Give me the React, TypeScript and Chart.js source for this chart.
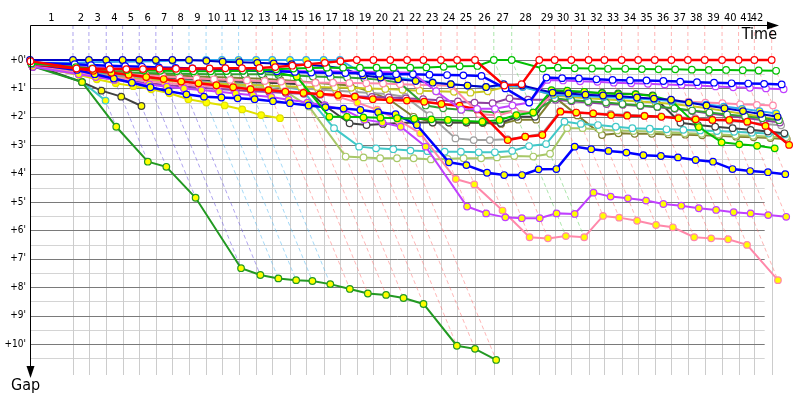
import React, { useEffect, useRef } from "react";
import { Chart, registerables } from "chart.js";
Chart.register(...registerables);

// leader's elapsed time (minutes) at the end of each lap, lap 0 = start
const lapTimes = [0, 3.70, 5.07, 6.56, 7.97, 9.40, 10.83, 12.25, 13.68, 15.15, 16.52, 17.95, 19.46, 20.85, 22.37, 23.76, 25.27, 26.67, 28.12, 29.55, 31.00, 32.45, 33.85, 35.36, 36.75, 38.29, 39.91, 41.45, 43.82, 45.15, 46.58, 48.06, 49.43, 50.91, 52.33, 53.76, 55.19, 56.61, 58.06, 59.55, 60.97, 62.33, 63.82];
const lapLabels = ["1","2","3","4","5","6","7","8","9","10","11","12","13","14","15","16","17","18","19","20","21","22","23","24","25","26","27","28","29","30","31","32","33","34","35","36","37","38","39","40","41","42"];
const gapTicks = [0, 1, 2, 3, 4, 5, 6, 7, 8, 9, 10];
const gapTickLabels = ["+0'", "+1'", "+2'", "+3'", "+4'", "+5'", "+6'", "+7'", "+8'", "+9'", "+10'"];
// colour of the leader for each lap (1..42)
const lapLeaderColors = ["b","b","b","b","b","b","b","c","c","c","c","r","r","r","r","r","r","r","r","r","r","r","r","r","r","g","g","r","r","r","r","r","r","r","r","r","r","r","r","r","r","r"];

// gaps to the leader (minutes) per lap, index = lap
const gapsRedW = [0.04,0.3,0.31,0.32,0.32,0.32,0.31,0.31,0.3,0.3,0.29,0.29,0.28,0.25,0.2,0.15,0.1,0.04,0,0,0,0,0,0,0,0,0.9,0.85,0,0,0,0,0,0,0,0,0,0,0,0,0,0,0];
const gapsGreenW = [0.12,0.25,0.3,0.33,0.35,0.37,0.38,0.39,0.4,0.4,0.39,0.38,0.37,0.33,0.3,0.28,0.27,0.27,0.27,0.27,0.27,0.27,0.26,0.24,0.22,0.21,0,0,0.3,0.27,0.29,0.3,0.31,0.31,0.32,0.33,0.33,0.34,0.35,0.35,0.36,0.37,0.38];
const gapsBlueW = [0.1,0.15,0.18,0.2,0.22,0.24,0.26,0.28,0.3,0.32,0.34,0.36,0.38,0.4,0.42,0.44,0.45,0.46,0.47,0.48,0.5,0.5,0.52,0.53,0.54,0.56,1.0,1.5,0.62,0.64,0.65,0.68,0.7,0.72,0.72,0.74,0.76,0.78,0.8,0.82,0.83,0.84,0.86];
const gapsVioletW = [0.15,0.2,0.25,0.28,0.3,0.32,0.33,0.34,0.35,0.36,0.37,0.38,0.38,0.39,0.39,0.4,0.4,0.41,0.41,0.42,0.43,0.45,1.1,1.75,1.72,1.72,1.6,1.5,0.7,0.72,0.75,0.77,0.8,0.82,0.84,0.86,0.88,0.9,0.93,0.96,0.98,1.0,1.03];
const gapsPinkW = [0.18,0.35,0.4,0.45,0.5,0.54,0.58,0.62,0.65,0.68,0.7,0.72,0.74,0.76,0.78,0.8,0.8,0.81,0.82,0.83,0.85,0.87,0.89,0.91,1.9,1.95,1.8,1.85,1.2,1.22,1.25,1.27,1.3,1.33,1.36,1.41,1.47,1.5,1.52,1.56,1.58,1.6];
const gapsDarkGreenW = [0.2,0.4,0.42,0.44,0.45,0.46,0.47,0.48,0.49,0.5,0.5,0.5,0.5,0.52,0.55,0.58,0.6,0.62,0.65,0.7,0.8,1.6,1.7,1.75,1.8,1.85,1.8,1.85,1.35,1.42,1.45,1.5,1.55,1.6,1.65,1.7,1.78,1.85,1.92,1.98,2.05,2.12];
const gapsOliveYellowW = [0.22,0.45,0.55,0.6,0.65,0.7,0.74,0.77,0.8,0.83,0.86,0.88,0.9,0.92,0.94,0.95,0.97,0.98,1.0,1.02,1.05,1.08,1.1,1.12,1.15,1.1,0.95,0.93,1.25,1.3,1.35,1.38,1.42,1.46,1.5,1.55,1.62,1.7,1.8,1.9,2.0,2.1];
const gapsPurpleW = [0.25,0.5,0.6,0.68,0.75,0.82,0.88,0.93,0.98,1.02,1.06,1.1,1.13,1.16,1.19,1.22,1.25,1.28,1.3,1.32,1.35,1.38,1.42,1.46,1.5,1.52,1.35,1.4,1.4,1.45,1.5,1.55,1.58,1.62,1.66,1.72,1.8,1.88,1.96,2.04,2.12,2.2];
const gapsDarkGrayW = [0.1,0.3,0.4,0.45,0.5,0.55,0.6,0.64,0.68,0.72,0.75,0.78,0.8,0.82,0.85,1.6,2.23,2.29,2.25,2.22,2.2,2.2,2.2,2.2,2.2,2.22,2.0,2.0,1.1,1.12,1.14,1.16,1.18,1.2,1.25,2.21,2.29,2.35,2.4,2.46,2.52,2.58];
const gapsRedY = [0.15,0.3,0.38,0.45,0.52,0.6,0.67,0.76,0.82,0.89,0.96,1.03,1.06,1.12,1.16,1.2,1.23,1.29,1.38,1.41,1.43,1.47,1.55,1.61,1.74,2.82,2.7,2.64,1.82,1.85,1.88,1.94,1.96,1.97,2.0,2.05,2.09,2.11,2.11,2.17,2.32,2.99];
const gapsCyanW = [0.17,0.35,0.45,0.5,0.55,0.6,0.65,0.7,0.74,0.78,0.82,0.86,0.9,0.95,1.05,2.4,3.05,3.11,3.14,3.19,3.21,3.23,3.23,3.25,3.25,3.2,3.03,2.96,2.17,2.25,2.29,2.35,2.4,2.42,2.44,2.46,2.48,2.5,2.53,2.56,2.59,2.62];
const gapsLightOliveW = [0.2,0.4,0.5,0.55,0.6,0.65,0.7,0.75,0.8,0.85,0.9,0.95,1.0,1.1,1.64,3.4,3.43,3.46,3.46,3.46,3.5,3.48,3.46,3.46,3.43,3.38,3.4,3.3,2.4,2.4,2.45,2.48,2.5,2.52,2.55,2.58,2.6,2.62,2.65,2.67,2.7,2.72];
const gapsOliveW = [0.08,0.28,0.35,0.4,0.44,0.48,0.52,0.55,0.58,0.6,0.62,0.64,0.66,0.7,0.75,0.8,0.85,0.9,1.1,1.4,2.0,2.2,2.2,2.2,2.22,2.25,2.1,2.1,1.29,1.95,2.64,2.58,2.6,2.6,2.62,2.63,2.65,2.67,2.7,2.72,2.75,2.79];
const gapsGreenY = [0.06,0.25,0.28,0.3,0.32,0.33,0.34,0.35,0.36,0.37,0.38,0.38,0.39,0.45,0.59,2.0,2.0,2.02,2.03,2.05,2.07,2.09,2.11,2.15,2.17,2.11,1.94,1.85,1.06,1.08,1.12,1.17,1.2,1.21,1.27,1.44,2.36,2.9,2.97,3.02,3.11];
const gapsBlueY = [0.14,0.35,0.5,0.65,0.8,0.96,1.1,1.21,1.29,1.32,1.35,1.38,1.45,1.52,1.6,1.66,1.71,1.76,1.84,1.91,2.29,3.6,3.7,3.97,4.05,4.05,3.85,3.84,3.05,3.14,3.2,3.26,3.35,3.38,3.43,3.52,3.58,3.84,3.91,3.95,4.02];
const gapsVioletY = [0.24,0.5,0.6,0.7,0.78,0.86,0.94,1.0,1.06,1.12,1.18,1.24,1.3,1.4,1.5,1.6,1.75,2.1,2.2,2.35,3.05,5.16,5.4,5.54,5.57,5.57,5.4,5.42,4.67,4.81,4.87,4.95,5.07,5.13,5.22,5.28,5.36,5.4,5.46,5.52];
const gapsPinkY = [0.2,0.45,0.55,0.62,0.68,0.74,0.8,0.86,0.9,0.94,0.98,1.02,1.06,1.1,1.14,1.2,1.3,1.5,1.75,2.11,2.58,4.19,4.38,5.3,6.24,6.28,6.2,6.24,5.49,5.55,5.66,5.81,5.89,6.24,6.28,6.31,6.51,7.75];
const gapsDarkGreenY = [0.22,0.78,2.35,3.58,3.76,4.85,7.33,7.57,7.69,7.75,7.78,7.89,8.06,8.22,8.27,8.38,8.59,10.06,10.17,10.56];
const gapsYellowY = [0.2,0.53,0.68,0.82,0.92,1.03,1.17,1.38,1.5,1.6,1.74,1.94,2.05];
const gapsDarkGrayY = [0.15,0.78,1.08,1.29,1.62];
const gapsCyanY = [0.2,0.76,1.43];
const gapsGrayW = [0.23,0.45,0.5,0.55,0.6,0.64,0.68,0.72,0.76,0.8,0.84,0.88,0.92,0.96,1.0,1.04,1.08,1.12,1.16,1.2,1.3,1.94,2.76,2.82,2.82,2.79,2.7,2.6,1.8,1.85,1.88,1.9,1.93,1.96,1.99,2.02,2.05,2.1,2.15,2.2,2.25,2.3];
const gapsNavyY = [0,0,0,0,0,0,0,0,0,0.03,0.06,0.08,0.1,0.12,0.15,0.18,0.22,0.3,0.55,0.62,0.68,0.74,0.8,0.85,0.9,0.95,0.85,0.9,1.15,1.18,1.22,1.25,1.28,1.32,1.36,1.4,1.5,1.6,1.7,1.8,1.9,2.0];
const gapsLightBlueY = [0.1,0.1,0.08,0.07,0.06,0.05,0.04,0.03,0.02,0,0,0,0,0,0,0,0,0,0.45,0.55,0.62,0.7,0.78,0.85,0.9,0.95,0.9,0.95,1.23,1.25,1.28,1.3,1.33,1.36,1.4,1.44,1.5,1.57,1.64,1.72,1.8,1.88];

const WHITE = "#ffffff";
const YELLOW = "#ffff00";
// [gaps, line colour, marker fill, line width] - drawn top first
const series: [number[], string, string, number][] = [
  [gapsRedW, "#ff0000", WHITE, 2.5],
  [gapsGreenW, "#00c000", WHITE, 2],
  [gapsBlueW, "#0000ff", WHITE, 2.5],
  [gapsVioletW, "#c040ff", WHITE, 2],
  [gapsNavyY, "#0000c8", YELLOW, 2],
  [gapsLightBlueY, "#30a8f0", YELLOW, 2],
  [gapsRedY, "#ff0000", YELLOW, 2.5],
  [gapsGreenY, "#00c000", YELLOW, 2],
  [gapsBlueY, "#0000ff", YELLOW, 2.5],
  [gapsVioletY, "#c040ff", YELLOW, 2],
  [gapsPinkY, "#ff88aa", YELLOW, 2],
  [gapsDarkGreenY, "#229922", YELLOW, 2],
  [gapsYellowY, "#e0e000", YELLOW, 2],
  [gapsDarkGrayY, "#404040", YELLOW, 2],
  [gapsCyanY, "#40c8c8", YELLOW, 2],
  [gapsPinkW, "#ff88aa", WHITE, 2],
  [gapsDarkGreenW, "#33a033", WHITE, 2],
  [gapsOliveYellowW, "#c8c820", WHITE, 2],
  [gapsPurpleW, "#9040a0", WHITE, 2],
  [gapsDarkGrayW, "#404040", WHITE, 2],
  [gapsGrayW, "#a0a0a0", WHITE, 2],
  [gapsCyanW, "#40c8c8", WHITE, 2],
  [gapsLightOliveW, "#a8c868", WHITE, 2],
  [gapsOliveW, "#808030", WHITE, 2],
];

const dashColors: Record<string, string> = {
  b: "rgba(110,90,225,0.55)",
  c: "rgba(90,185,240,0.55)",
  r: "rgba(255,110,110,0.5)",
  g: "rgba(90,205,90,0.5)",
};

const X_MAX = 65.81;
const Y_MIN = -1.232;
const Y_MAX = 11.09;
const FONT = "'DejaVu Sans Condensed', 'DejaVu Sans', sans-serif";

const gridPlugin = {
  id: "gapGrid",
  beforeDatasetsDraw(chart: any) {
    const { ctx, scales } = chart;
    const xs = scales.x, ys = scales.y;
    const x0 = xs.getPixelForValue(0);
    const xEnd = xs.getPixelForValue(lapTimes[lapTimes.length - 1]) - 7;
    ctx.save();
    ctx.lineWidth = 1;
    ctx.strokeStyle = "#d4d4d4";
    for (let g = 0.5; g <= Y_MAX; g += 1) {
      const y = Math.round(ys.getPixelForValue(g)) + 0.5;
      ctx.beginPath(); ctx.moveTo(x0, y); ctx.lineTo(xEnd, y); ctx.stroke();
    }
    const yTop = ys.getPixelForValue(0);
    const yBot = ys.getPixelForValue(Y_MAX);
    ctx.strokeStyle = "#cccccc";
    for (let n = 1; n < lapTimes.length; n++) {
      const x = Math.round(xs.getPixelForValue(lapTimes[n])) + 0.5;
      ctx.beginPath(); ctx.moveTo(x, yTop); ctx.lineTo(x, yBot); ctx.stroke();
    }
    ctx.strokeStyle = "#7a7a7a";
    for (const g of gapTicks) {
      const y = Math.round(ys.getPixelForValue(g)) + 0.5;
      ctx.beginPath(); ctx.moveTo(x0, y); ctx.lineTo(xEnd, y); ctx.stroke();
    }
    ctx.restore();
  },
  afterDatasetsDraw(chart: any) {
    const { ctx, scales } = chart;
    const xs = scales.x, ys = scales.y;
    const x0 = Math.round(xs.getPixelForValue(0)) + 0.5;
    const yAxis = Math.round(ys.getPixelForValue(Y_MIN)) + 0.5;
    ctx.save();
    ctx.strokeStyle = "#000";
    ctx.fillStyle = "#000";
    ctx.lineWidth = 1;
    const tipX = 779;
    ctx.beginPath(); ctx.moveTo(x0, yAxis); ctx.lineTo(tipX - 10, yAxis); ctx.stroke();
    ctx.beginPath(); ctx.moveTo(tipX, yAxis); ctx.lineTo(tipX - 12, yAxis - 4); ctx.lineTo(tipX - 12, yAxis + 4); ctx.closePath(); ctx.fill();
    const tipY = 378;
    ctx.beginPath(); ctx.moveTo(x0, yAxis); ctx.lineTo(x0, tipY - 10); ctx.stroke();
    ctx.beginPath(); ctx.moveTo(x0, tipY); ctx.lineTo(x0 - 4, tipY - 12); ctx.lineTo(x0 + 4, tipY - 12); ctx.closePath(); ctx.fill();
    ctx.font = "11px " + FONT;
    ctx.textAlign = "center";
    ctx.textBaseline = "middle";
    for (let n = 1; n < lapTimes.length; n++) {
      let x = (xs.getPixelForValue(lapTimes[n - 1]) + xs.getPixelForValue(lapTimes[n])) / 2;
      x = Math.min(x, 757);
      ctx.fillText(lapLabels[n - 1], x, 18);
    }
    ctx.font = "10px " + FONT;
    ctx.textAlign = "right";
    gapTicks.forEach((g, i) => {
      ctx.fillText(gapTickLabels[i], 26, ys.getPixelForValue(g));
    });
    ctx.font = "16px " + FONT;
    ctx.textAlign = "right";
    ctx.textBaseline = "top";
    ctx.fillText("Time", 777, 27);
    ctx.textAlign = "left";
    ctx.fillText("Gap", 11, 378);
    ctx.restore();
  },
};

export default function App() {
  const ref = useRef<HTMLCanvasElement>(null);
  useEffect(() => {
    if (!ref.current) return;
    const maxGap = lapTimes.map((_, n) => {
      let m = 0;
      for (const s of series) if (s[0].length > n) m = Math.max(m, s[0][n]);
      return m;
    });
    const datasets: any[] = [];
    series.forEach(([gaps, color, fill, width]) => {
      datasets.push({
        data: gaps.map((g, n) => ({ x: lapTimes[n] + g, y: g })),
        showLine: true,
        borderColor: color,
        backgroundColor: fill,
        borderWidth: width,
        pointRadius: 3.3,
        pointBorderWidth: 1.2,
        pointBorderColor: color,
        pointBackgroundColor: fill,
        tension: 0,
        clip: false,
        order: 0,
      });
    });
    for (let n = 1; n < lapTimes.length; n++) {
      const t = lapTimes[n];
      datasets.push({
        data: [
          { x: t, y: Y_MIN },
          { x: t, y: 0 },
          { x: t + maxGap[n], y: maxGap[n] },
        ],
        showLine: true,
        borderColor: dashColors[lapLeaderColors[n - 1]],
        borderWidth: 1,
        borderDash: [4, 3],
        pointRadius: 0,
        tension: 0,
        clip: false,
        order: 10,
      });
    }
    const chart = new Chart(ref.current, {
      type: "scatter",
      data: { datasets },
      options: {
        responsive: false,
        animation: false,
        events: [],
        layout: { padding: { left: 30, top: 25, right: 0, bottom: 25 } },
        plugins: { legend: { display: false }, tooltip: { enabled: false } },
        scales: {
          x: { type: "linear", min: 0, max: X_MAX, display: false },
          y: { type: "linear", min: Y_MIN, max: Y_MAX, reverse: true, display: false },
        },
      },
      plugins: [gridPlugin],
    });
    return () => chart.destroy();
  }, []);
  return (
    <div style={{ position: "fixed", left: 0, top: 0, width: 800, height: 400, background: "#fff" }}>
      <canvas ref={ref} width={800} height={400} />
    </div>
  );
}
